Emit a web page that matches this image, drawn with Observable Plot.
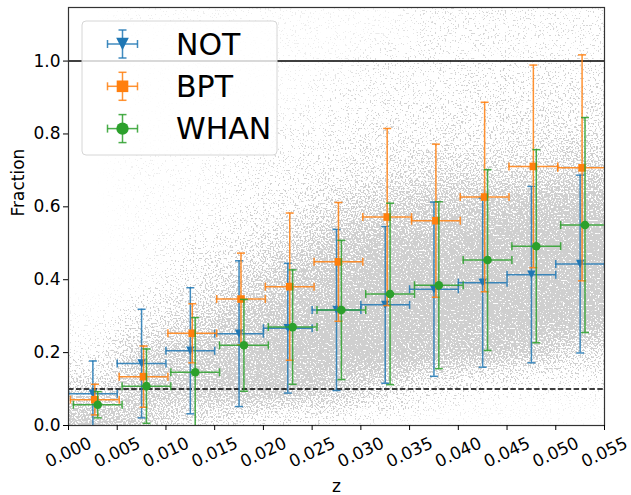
<!DOCTYPE html>
<html>
<head>
<meta charset="utf-8">
<script src="https://cdn.jsdelivr.net/npm/d3@7"></script>
<script src="https://cdn.jsdelivr.net/npm/@observablehq/plot@0.6"></script>
<style>
  body { margin: 0; background: #fff; }
  #chart { width: 631px; height: 495px; }
</style>
</head>
<body>
<div id="chart"></div>
<script>
// Redshift bins (centres) and half bin width
const zBins = [0.0025, 0.0075, 0.0125, 0.0175, 0.0225, 0.0275, 0.0325, 0.0375, 0.0425, 0.0475, 0.0525];
const zHalfWidth = 0.0025;

// Fraction per bin and its 1-sigma error, per classification
const notFrac = [0.087, 0.170, 0.205, 0.252, 0.267, 0.317, 0.331, 0.374, 0.392, 0.414, 0.443];
const notErr  = [0.090, 0.149, 0.173, 0.200, 0.178, 0.221, 0.215, 0.239, 0.232, 0.242, 0.244];
const bptFrac = [0.071, 0.134, 0.253, 0.347, 0.381, 0.449, 0.572, 0.562, 0.627, 0.711, 0.707];
const bptErr  = [0.042, 0.084, 0.081, 0.126, 0.202, 0.163, 0.243, 0.210, 0.260, 0.278, 0.310];
const whanFrac = [0.057, 0.108, 0.146, 0.220, 0.270, 0.317, 0.361, 0.385, 0.454, 0.492, 0.550];
const whanErr  = [0.036, 0.102, 0.150, 0.126, 0.157, 0.191, 0.249, 0.229, 0.248, 0.265, 0.295];

// Reference levels
const fullLevel = 1.0;
const floorLevel = 0.1;

// Galaxy cloud behind the bins: relative point density (0 = empty, 9 = solid)
// one row per fraction level, one column per redshift bin
const cloudFrac = [0.0, 0.1, 0.2, 0.3, 0.4, 0.5, 0.6, 0.7, 0.8, 0.9, 1.0, 1.1];
const cloudDensity = [
  [8, 6, 4, 3, 2, 1.5, 1, 0.5, 0.5, 0.5, 0.5],
  [5, 7, 7, 8, 8, 7, 5, 3, 2, 1.5, 1.5],
  [2, 6, 7, 8, 9, 9, 9, 8, 8, 7, 5],
  [1, 3, 5, 7, 8, 9, 9, 9, 9, 9, 9],
  [0, 1, 3, 5, 7, 8, 9, 9, 9, 9, 9],
  [0, 1, 2, 3, 5, 7, 8, 8, 9, 9, 9],
  [0, 1, 1, 2, 3, 5, 6, 7, 7, 8, 8],
  [0, 1, 1, 2, 2, 3, 4, 5, 5, 5, 6],
  [0, 1, 1, 1, 2, 2, 3, 3, 3, 4, 4],
  [0, 1, 1, 1, 1, 2, 2, 2, 3, 3, 3],
  [0, 1, 1, 1, 1, 1, 2, 2, 2, 2, 2],
  [0, 1, 1, 1, 1, 1, 1, 2, 2, 2, 2]
];

// Axis ticks
const xTicks = [0, 0.005, 0.01, 0.015, 0.02, 0.025, 0.03, 0.035, 0.04, 0.045, 0.05, 0.055];
const yTicks = [0, 0.2, 0.4, 0.6, 0.8, 1.0];

const zDomain = [0, 0.055];
const fDomain = [0, 1.147];

const series = [
  {name: "NOT",  frac: notFrac,  err: notErr,  color: "#1f77b4", shape: "tri",    dodge: 0},
  {name: "BPT",  frac: bptFrac,  err: bptErr,  color: "#ff7f0e", shape: "square", dodge: 0.0002},
  {name: "WHAN", frac: whanFrac, err: whanErr, color: "#2ca02c", shape: "circle", dodge: 0.0005}
];

// Bilinear lookup into the density grid, clamped at the edges
function cloudAt(z, f) {
  const cx = Math.max(0, Math.min(zBins.length - 1, (z - zBins[0]) / (zBins[1] - zBins[0])));
  const cy = Math.max(0, Math.min(cloudFrac.length - 1, (f - cloudFrac[0]) / (cloudFrac[1] - cloudFrac[0])));
  const i0 = Math.floor(cx), j0 = Math.floor(cy);
  const i1 = Math.min(i0 + 1, zBins.length - 1), j1 = Math.min(j0 + 1, cloudFrac.length - 1);
  const tx = cx - i0, ty = cy - j0;
  const a = cloudDensity[j0][i0] * (1 - tx) + cloudDensity[j0][i1] * tx;
  const b = cloudDensity[j1][i0] * (1 - tx) + cloudDensity[j1][i1] * tx;
  return a * (1 - ty) + b * ty;
}

// Fine tiles over the frame, each carrying the interpolated density as coverage
const tileZ = 0.0005, tileF = 0.01;
const tiles = [];
for (let z = zDomain[0]; z < zDomain[1] - 1e-9; z += tileZ) {
  for (let f = fDomain[0]; f < fDomain[1] - 1e-9; f += tileF) {
    tiles.push({z1: z, z2: Math.min(z + tileZ, zDomain[1]), f1: f, f2: Math.min(f + tileF, fDomain[1]),
                a: Math.pow(cloudAt(z + tileZ / 2, f + tileF / 2) / 9, 1.3)});
  }
}

// Marker and cap glyphs (pixel sized)
const capH = {draw(ctx) { ctx.moveTo(-4, 0); ctx.lineTo(4, 0); }};
const capV = {draw(ctx) { ctx.moveTo(0, -4); ctx.lineTo(0, 4); }};
const triDown = {draw(ctx) { const s = 4.2; ctx.moveTo(-s, -s); ctx.lineTo(s, -s); ctx.lineTo(0, s); ctx.closePath(); }};
const squareSym = {draw(ctx) { const s = 3.8; ctx.rect(-s, -s, 2 * s, 2 * s); }};
const circleSym = {draw(ctx) { ctx.moveTo(4.3, 0); ctx.arc(0, 0, 4.3, 0, 2 * Math.PI); }};
const shapes = {tri: triDown, square: squareSym, circle: circleSym};

const idx = d3.range(zBins.length);

function errorMarks(s) {
  const x = i => zBins[i] + s.dodge;
  const lo = i => s.frac[i] - s.err[i];
  const hi = i => s.frac[i] + s.err[i];
  const common = {stroke: s.color, strokeWidth: 1.5, strokeOpacity: 0.85, clip: true};
  return [
    Plot.ruleX(idx, {x, y1: lo, y2: hi, ...common}),
    Plot.ruleY(idx, {y: i => s.frac[i], x1: i => x(i) - zHalfWidth, x2: i => x(i) + zHalfWidth, ...common}),
    Plot.dot(idx, {x, y: lo, symbol: capH, fill: "none", ...common}),
    Plot.dot(idx, {x, y: hi, symbol: capH, fill: "none", ...common}),
    Plot.dot(idx, {x: i => x(i) - zHalfWidth, y: i => s.frac[i], symbol: capV, fill: "none", ...common}),
    Plot.dot(idx, {x: i => x(i) + zHalfWidth, y: i => s.frac[i], symbol: capV, fill: "none", ...common}),
    Plot.dot(idx, {x, y: i => s.frac[i], symbol: shapes[s.shape], fill: s.color, stroke: "none", r: 4})
  ];
}

const plot = Plot.plot({
  width: 631,
  height: 495,
  marginTop: 7,
  marginRight: 27,
  marginBottom: 70,
  marginLeft: 68,
  style: {fontFamily: "'DejaVu Sans', sans-serif", fontSize: "17px", color: "#000", background: "#fff"},
  x: {domain: zDomain},
  y: {domain: fDomain},
  opacity: {type: "identity"},
  marks: [
    Plot.rect(tiles, {x1: "z1", x2: "z2", y1: "f1", y2: "f2", fill: "#000", fillOpacity: "a",
                      shapeRendering: "crispEdges"}),
    Plot.ruleY([fullLevel], {stroke: "#000", strokeWidth: 1.5}),
    Plot.ruleY([floorLevel], {stroke: "#000", strokeWidth: 1.5, strokeDasharray: "5.5,2.4"}),
    ...series.flatMap(errorMarks),
    Plot.frame({stroke: "#333", strokeWidth: 1.2}),
    Plot.axisX({ticks: xTicks, tickFormat: d3.format(".3f"), tickRotate: -25, textAnchor: "middle",
                lineAnchor: "middle", tickSize: 5, tickPadding: 22, label: null}),
    Plot.axisY({ticks: yTicks, tickFormat: d3.format(".1f"), tickSize: 5, tickPadding: 3, label: null}),
    Plot.text(["z"], {frameAnchor: "bottom", dy: 66, lineAnchor: "bottom", fontSize: 17}),
    Plot.text(["Fraction"], {frameAnchor: "left", dx: -45, rotate: -90, lineAnchor: "bottom", fontSize: 17})
  ]
});

document.getElementById("chart").appendChild(plot);

const svg = d3.select(plot);

// Turn the density coverage into a speckled cloud of light-grey points
const defs = svg.insert("defs", ":first-child");
const flt = defs.append("filter").attr("id", "cloud-grain")
  .attr("filterUnits", "userSpaceOnUse")
  .attr("x", 68).attr("y", 7).attr("width", 536).attr("height", 418)
  .attr("color-interpolation-filters", "sRGB");
flt.append("feTurbulence").attr("type", "fractalNoise").attr("baseFrequency", 0.6)
  .attr("numOctaves", 1).attr("seed", 7).attr("result", "noise");
flt.append("feColorMatrix").attr("in", "noise").attr("type", "matrix")
  .attr("values", "0 0 0 0 0  0 0 0 0 0  0 0 0 0 0  3 0 0 0 -1")
  .attr("result", "grain");
flt.append("feComposite").attr("in", "SourceAlpha").attr("in2", "grain").attr("operator", "arithmetic")
  .attr("k1", 0).attr("k2", 6).attr("k3", 6).attr("k4", -6).attr("result", "dots");
flt.append("feFlood").attr("flood-color", "#cfcfcf").attr("result", "ink");
flt.append("feComposite").attr("in", "ink").attr("in2", "dots").attr("operator", "in");
svg.select('g[aria-label="rect"]').attr("filter", "url(#cloud-grain)");

// Legend box in the upper-left corner of the axes
const lg = svg.append("g").attr("font-family", "'DejaVu Sans', sans-serif");
lg.append("rect").attr("x", 82).attr("y", 21).attr("width", 195).attr("height", 134).attr("rx", 4)
  .attr("fill", "#fff").attr("fill-opacity", 0.8).attr("stroke", "#d6d6d6");
series.forEach((s, k) => {
  const cy = 44 + k * 42.3, cx = 122.5;
  const g = lg.append("g").attr("stroke", s.color).attr("stroke-width", 1.5).attr("stroke-opacity", 0.85);
  g.append("line").attr("x1", cx - 15).attr("x2", cx + 15).attr("y1", cy).attr("y2", cy);
  g.append("line").attr("x1", cx).attr("x2", cx).attr("y1", cy - 14).attr("y2", cy + 14);
  g.append("line").attr("x1", cx - 4).attr("x2", cx + 4).attr("y1", cy - 14).attr("y2", cy - 14);
  g.append("line").attr("x1", cx - 4).attr("x2", cx + 4).attr("y1", cy + 14).attr("y2", cy + 14);
  g.append("line").attr("x1", cx - 15).attr("x2", cx - 15).attr("y1", cy - 4).attr("y2", cy + 4);
  g.append("line").attr("x1", cx + 15).attr("x2", cx + 15).attr("y1", cy - 4).attr("y2", cy + 4);
  const m = 6.3;
  if (s.shape === "tri") {
    lg.append("path").attr("d", `M${cx - m},${cy - m}L${cx + m},${cy - m}L${cx},${cy + m}Z`).attr("fill", s.color);
  } else if (s.shape === "square") {
    lg.append("rect").attr("x", cx - 5.8).attr("y", cy - 5.8).attr("width", 11.6).attr("height", 11.6).attr("fill", s.color);
  } else {
    lg.append("circle").attr("cx", cx).attr("cy", cy).attr("r", 6.2).attr("fill", s.color);
  }
  lg.append("text").attr("x", 176).attr("y", cy).attr("dy", "0.36em").attr("font-size", 30)
    .attr("text-anchor", "start").attr("fill", "#000").text(s.name);
});
</script>
</body>
</html>
